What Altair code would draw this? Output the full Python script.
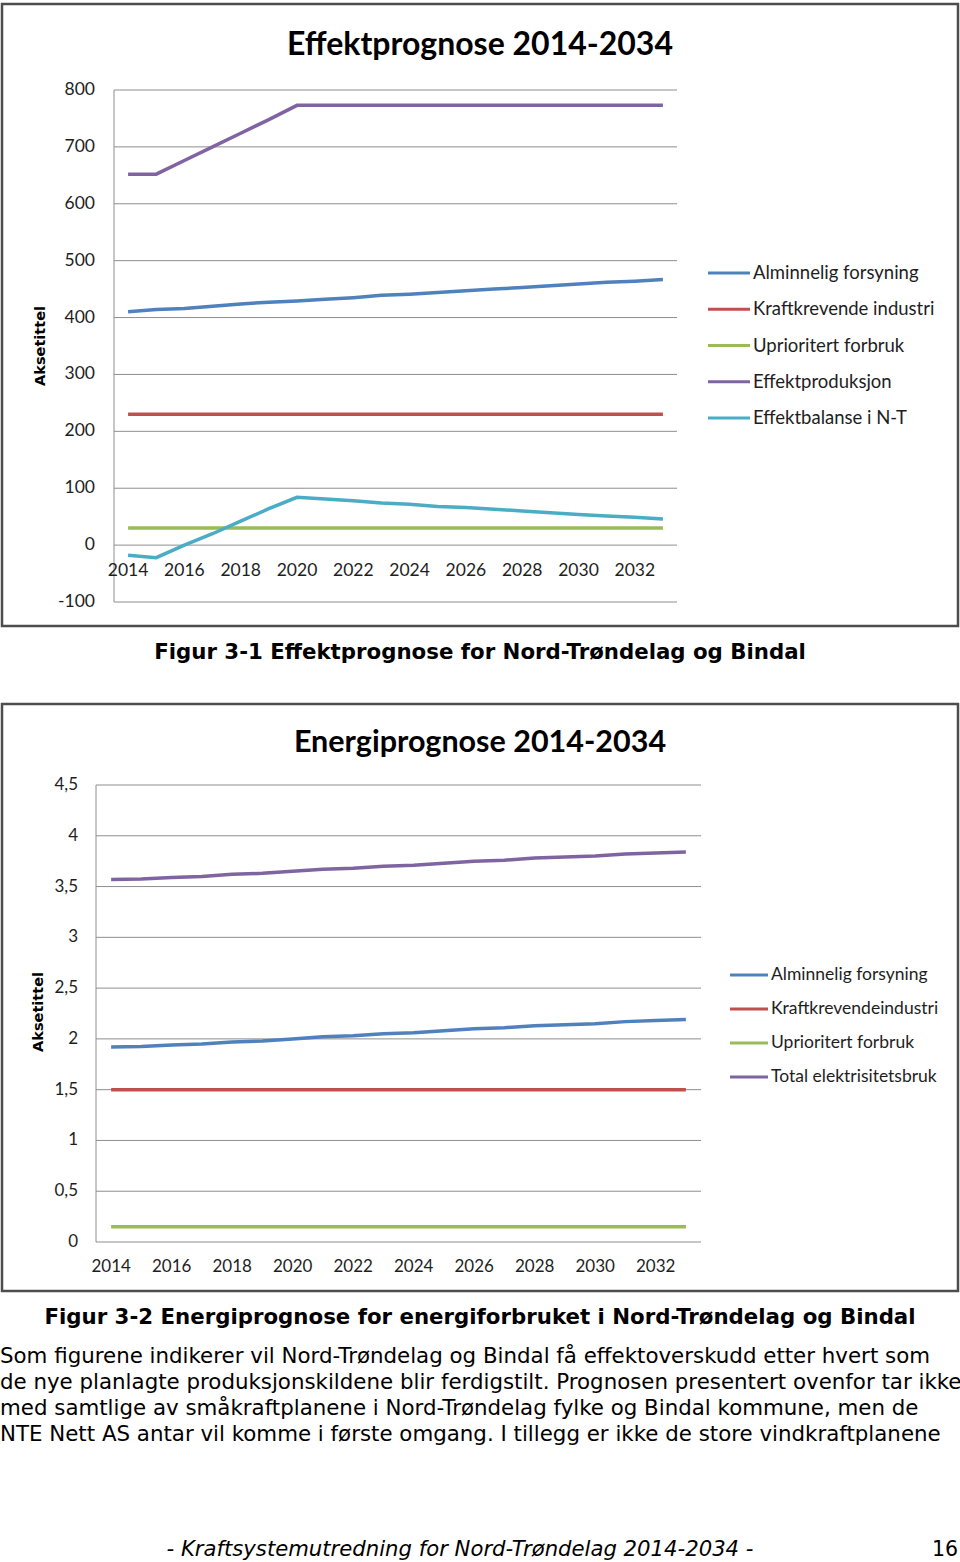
import altair as alt
import pandas as pd

# ---------------- data ----------------
years = list(range(2014, 2034))
label_years = list(range(2014, 2034, 2))

eff_names = ["Alminnelig forsyning", "Kraftkrevende industri", "Uprioritert forbruk",
             "Effektproduksjon", "Effektbalanse i N-T"]
eff_colors = ["#4F81BD", "#C0504D", "#9BBB59", "#8064A2", "#4BACC6"]
eff_alm = [410, 414, 416, 420, 424, 427, 429, 432, 435, 439, 441, 444, 447, 450, 453, 456, 459, 462, 464, 467]
eff_kraft = [230] * 20
eff_upri = [30] * 20
eff_prod = [652, 652, 676, 700, 724, 748, 773, 773, 773, 773, 773, 773, 773, 773, 773, 773, 773, 773, 773, 773]
eff_bal = [-18, -22, 0, 20, 42, 64, 84, 81, 78, 74, 72, 68, 66, 63, 60, 57, 54, 51, 49, 46]
eff_ticks = [-100, 0, 100, 200, 300, 400, 500, 600, 700, 800]
eff_tick_labels = ["-100", "0", "100", "200", "300", "400", "500", "600", "700", "800"]

en_names = ["Alminnelig forsyning", "Kraftkrevendeindustri", "Uprioritert forbruk",
            "Total elektrisitetsbruk"]
en_colors = ["#4F81BD", "#C0504D", "#9BBB59", "#8064A2"]
en_alm = [1.92, 1.925, 1.94, 1.95, 1.97, 1.98, 2.00, 2.02, 2.03, 2.05, 2.06, 2.08, 2.10, 2.11, 2.13, 2.14, 2.15, 2.17, 2.18, 2.19]
en_kraft = [1.5] * 20
en_upri = [0.15] * 20
en_tot = [3.57, 3.575, 3.59, 3.60, 3.62, 3.63, 3.65, 3.67, 3.68, 3.70, 3.71, 3.73, 3.75, 3.76, 3.78, 3.79, 3.80, 3.82, 3.83, 3.84]
en_ticks = [0, 0.5, 1, 1.5, 2, 2.5, 3, 3.5, 4, 4.5]
en_tick_labels = ["0", "0,5", "1", "1,5", "2", "2,5", "3", "3,5", "4", "4,5"]

title1 = "Effektprognose 2014-2034"
title2 = "Energiprognose 2014-2034"
ytitle = "Aksetittel"
caption1 = "Figur 3-1 Effektprognose for Nord-Trøndelag og Bindal"
caption2 = "Figur 3-2 Energiprognose for energiforbruket i Nord-Trøndelag og Bindal"
paragraph = [
    "Som figurene indikerer vil Nord-Trøndelag og Bindal få effektoverskudd etter hvert som",
    "de nye planlagte produksjonskildene blir ferdigstilt. Prognosen presentert ovenfor tar ikke",
    "med samtlige av småkraftplanene i Nord-Trøndelag fylke og Bindal kommune, men de",
    "NTE Nett AS antar vil komme i første omgang. I tillegg er ikke de store vindkraftplanene",
]
footer = "- Kraftsystemutredning for Nord-Trøndelag 2014-2034 -"
page_no = "16"

# ---------------- styles ----------------
GRID = "#8E8E8E"
TXT = "#1E1E1E"
CHART_FONT = "Lato"
DOC_FONT = "DejaVu Sans"
ONE = alt.Data(values=[{}])


def series_df(names, series):
    rows = []
    for n, vals in zip(names, series):
        for yr, v in zip(years, vals):
            rows.append({"year": yr, "value": v, "series": n})
    return pd.DataFrame(rows)


def panel(df, names, colors, ticks, tick_labels, xr, yr, ydom, label_x, label_dy, fs):
    xs = alt.Scale(domain=[2013.5, 2033.5], range=xr, nice=False, zero=False)
    ys = alt.Scale(domain=ydom, range=yr, nice=False, zero=False)
    cs = alt.Scale(domain=names, range=colors)
    tdf = pd.DataFrame({"tick": ticks, "lab": tick_labels})
    grid = alt.Chart(tdf).mark_rule(color=GRID, strokeWidth=1).encode(
        y=alt.Y("tick:Q", scale=ys, axis=None),
        x=alt.value(xr[0]), x2=alt.value(xr[1]))
    dom = alt.Chart(ONE).mark_rule(color=GRID, strokeWidth=1).encode(
        x=alt.value(xr[0]), y=alt.value(yr[1]), y2=alt.value(yr[0]))
    lines = alt.Chart(df).mark_line(strokeWidth=3.5).encode(
        x=alt.X("year:Q", scale=xs, axis=None),
        y=alt.Y("value:Q", scale=ys, axis=None),
        color=alt.Color("series:N", scale=cs, legend=None),
        detail="series:N")
    ylabs = alt.Chart(tdf).mark_text(align="right", baseline="middle", font=CHART_FONT,
                                     fontSize=fs, color=TXT).encode(
        y=alt.Y("tick:Q", scale=ys, axis=None), x=alt.value(label_x), text="lab:N")
    xdf = pd.DataFrame({"yr": label_years, "lab": [str(v) for v in label_years]})
    xlabs = alt.Chart(xdf).mark_text(align="center", baseline="middle", font=CHART_FONT,
                                     fontSize=fs, color=TXT, dy=label_dy).encode(
        x=alt.X("yr:Q", scale=xs, axis=None), y=alt.datum(0), text="lab:N")
    return alt.layer(grid, dom, lines, ylabs, xlabs)


def legend(names, colors, yrange, x0, x1, fs):
    ldf = pd.DataFrame({"series": names})
    ys = alt.Scale(type="point", domain=names, range=yrange, padding=0)
    cs = alt.Scale(domain=names, range=colors)
    sym = alt.Chart(ldf).mark_rule(strokeWidth=3).encode(
        y=alt.Y("series:N", scale=ys, axis=None),
        x=alt.value(x0), x2=alt.value(x1),
        color=alt.Color("series:N", scale=cs, legend=None))
    lab = alt.Chart(ldf).mark_text(align="left", baseline="middle", font=CHART_FONT,
                                   fontSize=fs, color=TXT).encode(
        y=alt.Y("series:N", scale=ys, axis=None), x=alt.value(x1 + 3), text="series:N")
    return alt.layer(sym, lab)


def txt(s, x, y, size, font=DOC_FONT, weight="normal", style="normal", align="center", angle=0):
    return alt.Chart(ONE).mark_text(align=align, baseline="middle", font=font, fontSize=size,
                                    fontWeight=weight, fontStyle=style, angle=angle,
                                    color="#000000").encode(
        x=alt.value(x), y=alt.value(y), text=alt.value(s))


def box(x0, y0, x1, y1):
    return alt.Chart(ONE).mark_rect(fill="white", stroke="#4D4D4D", strokeWidth=2.5).encode(
        x=alt.value(x0), x2=alt.value(x1), y=alt.value(y0), y2=alt.value(y1))


eff_df = series_df(eff_names, [eff_alm, eff_kraft, eff_upri, eff_prod, eff_bal])
en_df = series_df(en_names, [en_alm, en_kraft, en_upri, en_tot])

eff_panel = panel(eff_df, eff_names, eff_colors, eff_ticks, eff_tick_labels,
                  [114, 677], [602, 90], [-100, 800], 95, 26, 17.5)
en_panel = panel(en_df, en_names, en_colors, en_ticks, en_tick_labels,
                 [96, 701], [1242, 785], [0, 4.5], 78, 25, 17)
eff_leg = legend(eff_names, eff_colors, [273, 418], 708, 750, 18.5)
en_leg = legend(en_names, en_colors, [975, 1077], 730, 768, 17.5)

texts = [
    txt(title1, 480, 45, 32, font=CHART_FONT, weight="bold"),
    txt(title2, 480, 743, 30.5, font=CHART_FONT, weight="bold"),
    txt(ytitle, 41, 346, 14.5, weight="bold", angle=270),
    txt(ytitle, 39, 1012, 14.5, weight="bold", angle=270),
    txt(caption1, 480, 653, 21.3, weight="bold"),
    txt(caption2, 480, 1318, 21.3, weight="bold"),
    txt(footer, 460, 1550, 21.2, style="italic"),
    txt(page_no, 958, 1550, 20.5, align="right"),
]
for i, line in enumerate(paragraph):
    texts.append(txt(line, 0, 1357 + 26 * i, 21.35, align="left"))

chart = alt.layer(
    box(2, 4, 958, 626), box(2, 704, 958, 1291),
    eff_panel, eff_leg, en_panel, en_leg, *texts
).resolve_scale(x="independent", y="independent", color="independent").properties(
    width=960, height=1562, padding=0, autosize="none", background="white"
).configure_view(stroke=None)

chart.save("out.html", embed_options={"renderer": "svg", "actions": False})
